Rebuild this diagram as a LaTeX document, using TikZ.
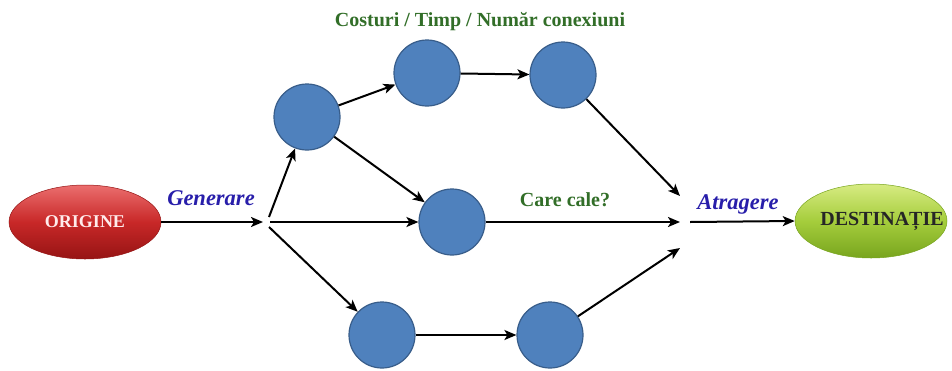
\documentclass[tikz,border=0pt]{standalone}
\usepackage{fontspec}
\setmainfont{Liberation Serif}
\usetikzlibrary{arrows.meta,shapes.geometric,calc}
\definecolor{circfill}{RGB}{79,129,189}
\definecolor{circline}{RGB}{56,93,138}
\definecolor{lblblue}{RGB}{40,30,170}
\definecolor{lblgreen}{RGB}{50,110,40}
\definecolor{redtop}{RGB}{235,110,110}
\definecolor{redmid}{RGB}{200,40,40}
\definecolor{redbot}{RGB}{150,20,20}
\definecolor{grtop}{RGB}{215,235,130}
\definecolor{grmid}{RGB}{165,205,60}
\definecolor{grbot}{RGB}{120,165,30}
\begin{document}
\begin{tikzpicture}[x=1pt,y=-1pt,
  hop/.style={circle,draw=circline,line width=1.2pt,fill=circfill,minimum size=66pt,inner sep=0pt},
  conn/.style={line width=2pt,-{Stealth[length=12pt,width=10pt,inset=3pt]}},
  endpt/.style={ellipse,minimum width=152pt,minimum height=74pt,inner sep=0pt},
  lbl/.style={font=\bfseries\itshape\fontsize{22.5}{25}\selectfont,text=lblblue},
  glbl/.style={font=\bfseries\fontsize{20}{24}\selectfont,text=lblgreen}]
\useasboundingbox (0,0) rectangle (952,370);
\node[endpt,top color=redtop,bottom color=redbot,middle color=redmid,draw=redbot,line width=0.5pt,text=red!8!white,font=\bfseries\fontsize{18}{20}\selectfont] (orig) at (85,222) {ORIGINE};
\node[endpt,top color=grtop,bottom color=grbot,middle color=grmid,draw=grbot,line width=0.5pt,
  label={[xshift=11pt,text=black!85,font=\bfseries\fontsize{20}{22}\selectfont]center:DESTINAȚIE}] (dest) at (871,221) {};
\coordinate (split) at (266,222);
\coordinate (merge) at (684,222);
\node[hop] (a) at (307,117) {};
\node[hop] (b) at (427,73) {};
\node[hop] (c) at (563,75) {};
\node[hop] (d) at (452,222) {};
\node[hop] (e) at (382,335) {};
\node[hop] (f) at (550,335) {};
\draw[conn] (orig.east) -- ($(split)+(-3,0)$);
\draw[conn] ($(split)+(3,-5)$) -- (a);
\draw[conn] ($(split)+(4,0)$) -- (d);
\draw[conn] ($(split)+(3,5)$) -- (e);
\draw[conn] (a) -- (b);
\draw[conn] (b) -- (c);
\draw[conn] (a) -- (d);
\draw[conn] (e) -- (f);
\draw[conn] (c) -- ($(merge)+(-4,-26)$);
\draw[conn] (d) -- ($(merge)+(-4,0)$);
\draw[conn] (f) -- ($(merge)+(-4,26)$);
\draw[conn] ($(merge)+(6,0)$) -- (dest.west);
\node[lbl] (gen) at (211,198) {Generare};
\node[lbl] (atr) at (738,204) {Atragere};
\node[glbl] (care) at (565,200) {Care cale?};
\node[glbl] (title) at (480,22) {Costuri / Timp / Număr conexiuni};
\end{tikzpicture}
\end{document}
